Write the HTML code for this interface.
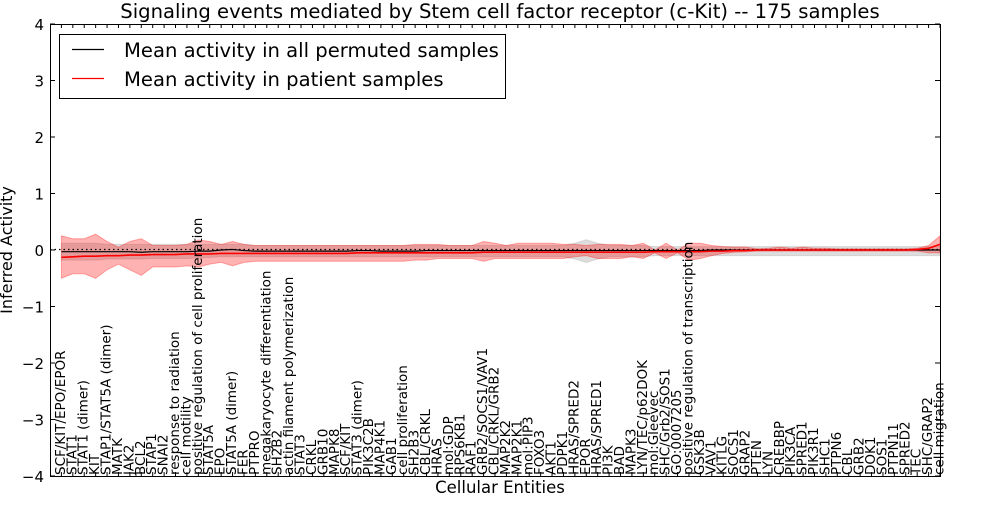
<!DOCTYPE html>
<html><head><meta charset="utf-8"><style>
body{margin:0;background:#fff;}
svg text{font-family:"DejaVu Sans","Liberation Sans",sans-serif;}
</style></head><body>
<svg id="chart" width="1000" height="500" xmlns="http://www.w3.org/2000/svg">
<text x="500" y="18" font-size="19.6" text-anchor="middle">Signaling events mediated by Stem cell factor receptor (c-Kit) -- 175 samples</text>
<text transform="translate(12,250) rotate(-90)" font-size="16" text-anchor="middle">Inferred Activity</text>
<text x="500" y="493" font-size="16.5" text-anchor="middle">Cellular Entities</text>
<g id="plot"></g>
<g id="legend">
<rect x="59.5" y="34.5" width="446" height="64" fill="#fff" stroke="#000" stroke-width="1"/>
<line x1="72" y1="49.5" x2="104" y2="49.5" stroke="#000" stroke-width="1.2"/>
<text x="124" y="57" font-size="19.6">Mean activity in all permuted samples</text>
<line x1="72" y1="78.5" x2="104" y2="78.5" stroke="#f00" stroke-width="1.2"/>
<text x="124" y="86" font-size="19.6">Mean activity in patient samples</text>
</g>
</svg>
<script>
const categories=["SCF/KIT/EPO/EPOR","STAT1","STAT1 (dimer)","KIT","STAP1/STAT5A (dimer)","MATK","JAK2","BCL2","STAP1","SNAI2","response to radiation","cell motility","positive regulation of cell proliferation","STAT5A","EPO","STAT5A (dimer)","FER","PTPRO","megakaryocyte differentiation","SH2B2","actin filament polymerization","STAT3","CRKL","GRB10","MAPK8","SCF/KIT","STAT3 (dimer)","PIK3C2B","MAP4K1","GAB1","cell proliferation","SH2B3","CBL/CRKL","HRAS","mol:GDP","RPS6KB1","RAF1","GRB2/SOCS1/VAV1","CBL/CRKL/GRB2","MAP2K2","MAP2K1","mol:PIP3","FOXO3","AKT1","PDPK1","HRAS/SPRED2","EPOR","HRAS/SPRED1","PI3K","BAD","MAPK3","LYN/TEC/p62DOK","mol:Gleevec","SHC/Grb2/SOS1","GO:0007205","positive regulation of transcription","GSK3B","VAV1","KITLG","SOCS1","GRAP2","PTEN","LYN","CREBBP","PIK3CA","SPRED1","PIK3R1","SHC1","PTPN6","CBL","GRB2","DOK1","SOS1","PTPN11","SPRED2","TEC","SHC/GRAP2","cell migration"];
const yTicks=[-4,-3,-2,-1,0,1,2,3,4];
const permMean=[-0.03,-0.03,-0.03,-0.03,-0.03,-0.03,-0.03,-0.04,-0.03,-0.03,-0.03,-0.03,-0.02,-0.02,0.0,0.01,-0.01,-0.02,-0.02,-0.02,-0.02,-0.02,-0.02,-0.02,-0.02,-0.02,-0.01,-0.01,-0.02,-0.02,-0.02,-0.02,-0.01,-0.01,-0.01,-0.01,-0.01,-0.01,-0.01,-0.01,-0.01,-0.01,-0.01,-0.01,-0.01,-0.01,-0.01,-0.01,-0.01,-0.01,-0.01,-0.01,-0.01,-0.01,-0.01,-0.01,-0.01,0,0,0,0,0,0,0,0,0,0,0,0,0,0,0,0,0,0,0,0,0];
const permHi=[0.12,0.12,0.12,0.12,0.1,0.1,0.1,0.1,0.1,0.1,0.1,0.1,0.1,0.1,0.1,0.1,0.1,0.08,0.08,0.08,0.08,0.08,0.08,0.08,0.08,0.08,0.08,0.08,0.08,0.08,0.08,0.08,0.08,0.08,0.08,0.08,0.08,0.08,0.08,0.08,0.08,0.08,0.08,0.08,0.08,0.12,0.18,0.12,0.08,0.08,0.08,0.08,0.06,0.06,0.06,0.06,0.06,0.06,0.06,0.06,0.06,0.06,0.06,0.06,0.06,0.06,0.06,0.06,0.06,0.06,0.06,0.06,0.06,0.06,0.06,0.06,0.06,0.06];
const permLo=[-0.18,-0.18,-0.18,-0.18,-0.16,-0.16,-0.16,-0.16,-0.15,-0.15,-0.15,-0.15,-0.14,-0.13,-0.12,-0.12,-0.12,-0.12,-0.12,-0.12,-0.12,-0.12,-0.12,-0.12,-0.12,-0.12,-0.12,-0.12,-0.12,-0.12,-0.12,-0.12,-0.12,-0.12,-0.12,-0.12,-0.12,-0.12,-0.12,-0.12,-0.12,-0.12,-0.12,-0.12,-0.12,-0.16,-0.22,-0.16,-0.12,-0.12,-0.12,-0.12,-0.1,-0.1,-0.1,-0.1,-0.1,-0.1,-0.1,-0.1,-0.1,-0.1,-0.1,-0.1,-0.1,-0.1,-0.1,-0.1,-0.1,-0.1,-0.1,-0.1,-0.1,-0.1,-0.1,-0.1,-0.1,-0.1];
const patMean=[-0.13,-0.12,-0.11,-0.11,-0.1,-0.1,-0.09,-0.09,-0.08,-0.08,-0.08,-0.07,-0.07,-0.07,-0.06,-0.06,-0.06,-0.06,-0.06,-0.06,-0.06,-0.06,-0.06,-0.06,-0.06,-0.06,-0.05,-0.05,-0.05,-0.05,-0.05,-0.05,-0.05,-0.05,-0.05,-0.05,-0.05,-0.04,-0.04,-0.04,-0.04,-0.04,-0.04,-0.04,-0.04,-0.04,-0.04,-0.04,-0.04,-0.04,-0.04,-0.04,-0.03,-0.03,-0.03,-0.03,-0.03,-0.02,-0.02,-0.01,-0.01,0,0,0,0,0,0,0,0,0,0,0,0,0,0,0.01,0.03,0.1];
const patHi=[0.25,0.2,0.2,0.28,0.15,0.05,0.15,0.2,0.08,0.08,0.08,0.1,0.18,0.15,0.1,0.15,0.1,0.08,0.08,0.08,0.08,0.08,0.08,0.08,0.08,0.08,0.08,0.08,0.08,0.08,0.08,0.1,0.1,0.1,0.08,0.08,0.08,0.15,0.12,0.08,0.12,0.12,0.12,0.12,0.1,0.1,0.08,0.1,0.1,0.1,0.08,0.12,0.0,0.12,0.0,0.12,0.12,0.08,0.06,0.05,0.05,0.02,0.03,0.05,0.03,0.05,0.03,0.03,0.02,0.02,0.02,0.02,0.02,0.02,0.02,0.03,0.08,0.25];
const patLo=[-0.5,-0.42,-0.42,-0.5,-0.35,-0.25,-0.35,-0.45,-0.3,-0.3,-0.3,-0.28,-0.3,-0.25,-0.22,-0.28,-0.22,-0.2,-0.2,-0.2,-0.2,-0.2,-0.2,-0.2,-0.2,-0.2,-0.2,-0.2,-0.2,-0.2,-0.2,-0.18,-0.18,-0.15,-0.15,-0.15,-0.15,-0.2,-0.15,-0.15,-0.15,-0.15,-0.15,-0.15,-0.15,-0.12,-0.1,-0.15,-0.15,-0.15,-0.12,-0.15,-0.05,-0.15,-0.05,-0.18,-0.15,-0.1,-0.06,-0.04,-0.03,-0.02,-0.02,-0.02,-0.02,-0.02,-0.02,-0.02,-0.02,-0.02,-0.02,-0.02,-0.02,-0.02,-0.02,-0.02,-0.05,-0.05];

const NS="http://www.w3.org/2000/svg";
const L=50,R=940,T=24,B=476;
const n=categories.length;
function xs(i){return L+(i+1)*(R-L)/n;}
function ys(v){return T+(4-v)*(B-T)/8;}
const g=document.getElementById('plot');
function mk(tag,attrs,parent){const e=document.createElementNS(NS,tag);for(const k in attrs)e.setAttribute(k,attrs[k]);(parent||g).appendChild(e);return e;}
function band(hi,lo){let d='M'+hi.map((v,i)=>xs(i)+','+ys(v)).join('L');for(let i=n-1;i>=0;i--)d+='L'+xs(i)+','+ys(lo[i]);return d+'Z';}
function line(arr){return 'M'+arr.map((v,i)=>xs(i)+','+ys(v)).join('L');}
const pb=mk('path',{d:band(permHi,permLo),fill:'#bbbbbb','fill-opacity':'0.5',stroke:'#bbbbbb','stroke-opacity':'0.5'});


const rb=mk('path',{d:band(patHi,patLo),fill:'#ff0000','fill-opacity':'0.3',stroke:'#ff0000','stroke-opacity':'0.3'});


const zl=mk('line',{x1:L,x2:R,y1:ys(0)-0.5,y2:ys(0)-0.5,stroke:'#000','stroke-dasharray':'1.5,3','stroke-width':1.2});


const pl=mk('path',{d:line(permMean),fill:'none',stroke:'#000','stroke-width':1.2});


const rl=mk('path',{d:line(patMean),fill:'none',stroke:'#f00','stroke-width':1.6});


const fr=mk('rect',{x:L+0.5,y:T+0.5,width:R-L,height:B-T,fill:'none',stroke:'#000','stroke-width':1});


yTicks.forEach(v=>{
  const t=mk('text',{x:L-6,y:ys(v)+6,'font-size':15,'text-anchor':'end'});
  t.textContent=(v<0?'\u2212':'')+Math.abs(v);
  
  
  mk('line',{x1:L,x2:L+5,y1:ys(v),y2:ys(v),stroke:'#000'});
  mk('line',{x1:R-5,x2:R,y1:ys(v),y2:ys(v),stroke:'#000'});
});
categories.forEach((c,i)=>{
  const x=xs(i);
  mk('line',{x1:x,x2:x,y1:T,y2:T+4,stroke:'#000'});
  mk('line',{x1:x,x2:x,y1:B-4,y2:B,stroke:'#000'});
  const t=mk('text',{transform:`translate(${x+3.5},${B-1}) rotate(-90)`,'font-size':13.5});
  t.textContent=c;
  
  
});
</script>
</body></html>
